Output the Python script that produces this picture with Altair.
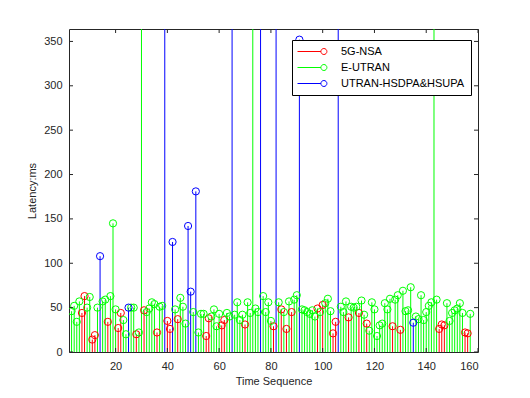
import altair as alt
import pandas as pd

# ---- data ----
seq_index = list(range(3, 158))
network_code = list(
    "GGGGRRGGRR"   # 3-12
    "GBGGRGGGRR"   # 13-22
    "GGBGGRGGRG"   # 23-32
    "GGGRGGBRRB"   # 33-42
    "GRGGGBBGBG"   # 43-52
    "GGRRGGGGRR"   # 53-62
    "GGBGGGGRGG"   # 63-72
    "GGGBGGGGRB"   # 73-82
    "GRGRGRGGBG"   # 83-92
    "GGGGGRGRGG"   # 93-102
    "GRRBGGGRGG"   # 103-112
    "GRGGRGGGGG"   # 113-122
    "GGGGRGGRGG"   # 123-132
    "GGBGGGGGGG"   # 133-142
    "GGRRRGGGGG"   # 143-152
    "GGRRG"        # 153-157
)
latency_ms = [
    46, 52, 34, 57, 44, 63, 50, 62, 14, 19,      # 3-12
    50, 108, 57, 59, 34, 63, 145, 48, 27, 44,    # 13-22
    36, 20, 50, 50, 50, 20, 22, 420, 47, 45,     # 23-32
    49, 56, 54, 22, 51, 52, 420, 35, 26, 124,    # 33-42
    48, 37, 61, 51, 32, 142, 68, 45, 181, 22,    # 43-52
    43, 43, 18, 38, 40, 48, 29, 43, 30, 36,      # 53-62
    44, 40, 420, 42, 56, 36, 42, 31, 56, 44,     # 63-72
    420, 49, 45, 420, 63, 45, 56, 35, 29, 420,   # 73-82
    56, 48, 45, 26, 57, 45, 59, 64, 352, 48,     # 83-92
    47, 45, 43, 47, 40, 49, 45, 53, 55, 60,      # 93-102
    46, 21, 34, 420, 51, 45, 57, 39, 51, 50,     # 103-112
    51, 44, 58, 42, 32, 24, 56, 48, 18, 30,      # 113-122
    32, 55, 48, 60, 29, 59, 64, 25, 69, 46,      # 123-132
    47, 73, 33, 40, 37, 64, 36, 45, 52, 56,      # 133-142
    420, 59, 26, 31, 30, 55, 35, 44, 47, 49,     # 143-152
    55, 44, 22, 21, 43,                          # 153-157
]
series_names = ["5G-NSA", "E-UTRAN", "UTRAN-HSDPA&HSUPA"]
series_colors = ["#FF0000", "#00FF00", "#0000FF"]
code_to_name = {"R": "5G-NSA", "G": "E-UTRAN", "B": "UTRAN-HSDPA&HSUPA"}

x_ticks = [20, 40, 60, 80, 100, 120, 140, 160]
y_ticks = [0, 50, 100, 150, 200, 250, 300, 350]
x_domain = [2, 160]
y_domain = [0, 364]

n = min(len(seq_index), len(network_code), len(latency_ms))
df = pd.DataFrame({
    "t": seq_index[:n],
    "net": [code_to_name[c] for c in network_code[:n]],
    "lat": latency_ms[:n],
})
df["order"] = df["net"].map({k: i for i, k in enumerate(series_names)})
df["base"] = 0
df = df.sort_values(["order", "t"]).reset_index(drop=True)

W, H = 409, 323
AX = "#262626"
FONT = "Liberation Sans"

xs = alt.Scale(domain=x_domain, nice=False, zero=False)
ys = alt.Scale(domain=y_domain, nice=False, zero=False)

color = alt.Color(
    "net:N",
    scale=alt.Scale(domain=series_names, range=series_colors),
    legend=alt.Legend(
        title=None,
        orient="none",
        legendX=223,
        legendY=11,
        symbolType="M-2,0H5.8M7.8,0A1,1,0,1,1,5.8,0A1,1,0,1,1,7.8,0",
        symbolSize=36,
        symbolStrokeWidth=1,
        symbolFillColor="transparent",
        labelOffset=32,
        labelFont=FONT,
        labelFontSize=11,
        labelColor="#000000",
        rowPadding=4,
        padding=6,
        strokeColor="#000000",
        fillColor="#FFFFFF",
        cornerRadius=0,
    ),
)

base = alt.Chart(df)

stems = base.mark_rule(strokeWidth=1, clip=True).encode(
    x=alt.X("t:Q", scale=xs,
            axis=alt.Axis(values=x_ticks, title="Time Sequence", grid=False, ticks=False,
                          domain=False, labelFont=FONT, labelFontSize=11, labelColor=AX,
                          labelPadding=8, titleFont=FONT, titleFontSize=11,
                          titleFontWeight="normal", titleColor=AX, titlePadding=4)),
    y=alt.Y("lat:Q", scale=ys,
            axis=alt.Axis(values=y_ticks, title="Latency:ms", grid=False, ticks=False,
                          domain=False, labelFont=FONT, labelFontSize=11, labelColor=AX,
                          labelPadding=7, titleFont=FONT, titleFontSize=11,
                          titleFontWeight="normal", titleColor=AX, titlePadding=6)),
    y2="base:Q",
    color=color,
    order="order:Q",
)

points = base.mark_point(shape="circle", filled=False, size=52, strokeWidth=1, clip=True,
                         opacity=1).encode(
    x=alt.X("t:Q", scale=xs),
    y=alt.Y("lat:Q", scale=ys),
    color=color,
    order="order:Q",
)

xt = pd.DataFrame({"v": x_ticks})
yt = pd.DataFrame({"v": y_ticks})
tick_bottom = alt.Chart(xt).mark_rule(color=AX, strokeWidth=1).encode(
    x=alt.X("v:Q", scale=xs), y=alt.value(H), y2=alt.value(H - 4))
tick_top = alt.Chart(xt).mark_rule(color=AX, strokeWidth=1).encode(
    x=alt.X("v:Q", scale=xs), y=alt.value(0), y2=alt.value(4))
tick_left = alt.Chart(yt).mark_rule(color=AX, strokeWidth=1).encode(
    y=alt.Y("v:Q", scale=ys), x=alt.value(0), x2=alt.value(4))
tick_right = alt.Chart(yt).mark_rule(color=AX, strokeWidth=1).encode(
    y=alt.Y("v:Q", scale=ys), x=alt.value(W), x2=alt.value(W - 4))

chart = alt.layer(stems, points, tick_bottom, tick_top, tick_left, tick_right).properties(
    width=W, height=H,
    autosize=alt.AutoSizeParams(type="none"),
    padding={"left": 61, "top": 21, "right": 44, "bottom": 46},
    background="#FFFFFF",
).configure_view(stroke=AX, strokeWidth=1)

chart.save("out.html", embed_options={"renderer": "svg", "actions": False})
